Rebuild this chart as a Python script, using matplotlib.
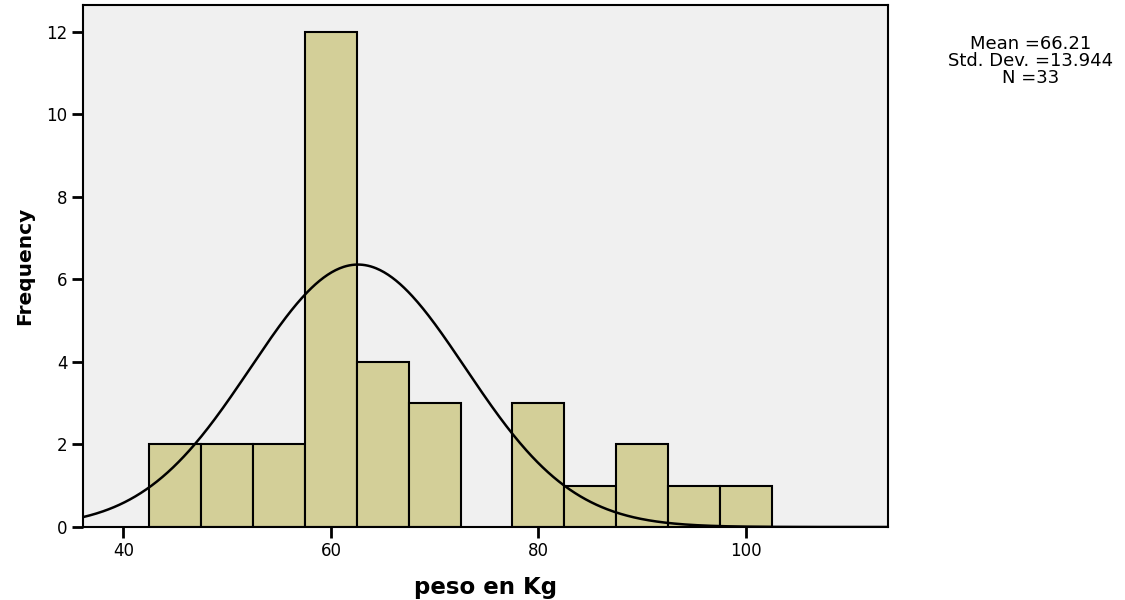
import numpy as np
import matplotlib
matplotlib.use("Agg")
import matplotlib.pyplot as plt

plt.rcParams['font.family'] = ['DejaVu Sans']

# Data
bin_edges = [42.5, 47.5, 52.5, 57.5, 62.5, 67.5, 72.5, 77.5, 82.5, 87.5, 92.5, 97.5, 102.5]
counts = [2, 2, 2, 12, 4, 3, 0, 3, 1, 2, 1, 1]
curve_mean = 62.6
curve_sd = 10.35
n_total = 33
bin_width = 5
stats_text = "Mean =66.21\nStd. Dev. =13.944\nN =33"
x_ticks = [40, 60, 80, 100]
y_ticks = [0, 2, 4, 6, 8, 10, 12]

fig = plt.figure(figsize=(11.25, 6.0), dpi=100)
ax = fig.add_axes([83/1125, 1 - 527/600, (888 - 83)/1125, (527 - 5)/600])
ax.set_facecolor('#F0F0F0')

lefts = bin_edges[:-1]
widths = np.diff(bin_edges)
heights = np.array(counts)
mask = heights > 0
ax.bar(np.array(lefts)[mask], heights[mask], width=widths[mask], align='edge',
       color='#D3CF98', edgecolor='black', linewidth=1.5, zorder=2)

xmin, xmax = 36.1, 113.7
xs = np.linspace(xmin, xmax, 600)
ys = n_total * bin_width / (curve_sd * np.sqrt(2 * np.pi)) * np.exp(-0.5 * ((xs - curve_mean) / curve_sd) ** 2)
ax.plot(xs, ys, color='black', linewidth=1.8, zorder=3)

ax.set_xlim(xmin, xmax)
ax.set_ylim(0, 12.65)
ax.set_xticks(x_ticks)
ax.set_yticks(y_ticks)
ax.tick_params(axis='both', direction='out', length=8, width=2, labelsize=12, pad=3)
for s in ax.spines.values():
    s.set_linewidth(1.5)
    s.set_zorder(4)

ax.set_xlabel('peso en Kg', fontsize=16.5, fontweight='bold', labelpad=11)
ax.set_ylabel('Frequency', fontsize=14.5, fontweight='bold', labelpad=9)

fig.text(1031/1125, 1 - 61/600, stats_text, ha='center', va='center',
         fontsize=13, linespacing=0.92)

fig.savefig('out.png', dpi=100)
